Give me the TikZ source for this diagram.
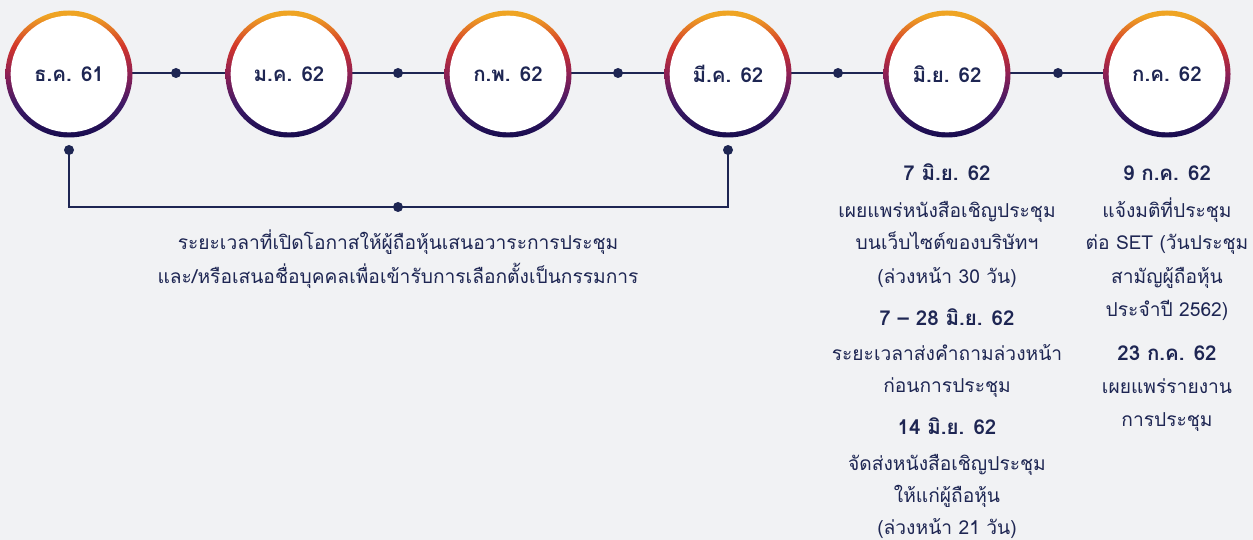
\documentclass[tikz,border=0pt]{standalone}
\usepackage{fontspec}
\setmainfont[Script=Thai]{Loma}
\usetikzlibrary{calc}
\definecolor{bg}{HTML}{F1F2F4}
\definecolor{navy}{HTML}{1E2653}
\definecolor{rgold}{HTML}{EFA423}
\definecolor{rred}{HTML}{D2352A}
\definecolor{rwine}{HTML}{8E2055}
\definecolor{rpurp}{HTML}{3E1A66}
\definecolor{rdark}{HTML}{170C4E}
\pgfdeclareverticalshading{ringshade}{100bp}{color(0bp)=(rdark); color(25bp)=(rdark); color(38bp)=(rpurp); color(50bp)=(rwine); color(61bp)=(rred); color(73bp)=(rgold); color(75bp)=(rgold); color(100bp)=(rgold)}
\tikzset{
  ring/.style={circle, minimum size=127pt, inner sep=0pt, shade, shading=ringshade,
    path picture={\fill[white] (path picture bounding box.center) circle (58.3pt);},
    font=\bfseries\fontsize{20.5}{24}\selectfont, text=navy},
  conn/.style={draw=navy, line width=1.8pt},
  dot/.style={circle, fill=navy, minimum size=10pt, inner sep=0pt},
  body/.style={anchor=base, font=\fontsize{19.2}{22}\selectfont, text=navy, inner sep=0pt},
  head/.style={anchor=base, font=\bfseries\fontsize{20.5}{24}\selectfont, text=navy, inner sep=0pt},
}
\begin{document}
\begin{tikzpicture}[x=1pt,y=-1pt]
\fill[bg] (0,0) rectangle (1253,540);
\useasboundingbox (0,0) rectangle (1253,540);
% connectors first
\coordinate (p1) at (69,73);
\coordinate (p6) at (1167,73);
\draw[conn] (p1) -- (p6);
\node[dot] (d1) at (176,73) {};
\node[dot] (d2) at (398,73) {};
\node[dot] (d3) at (618,73) {};
\node[dot] (d4) at (838,73) {};
\node[dot] (d5) at (1058,73) {};
\node[dot] (b1) at (69,150) {};
\node[dot] (b2) at (728,150) {};
\node[dot] (bm) at (398,207) {};
\draw[conn] (b1.center) |- (bm.center) -| (b2.center);
% circles
\node[ring] (c1) at (69,74) {ธ.ค. 61};
\node[ring] (c2) at (289,74) {ม.ค. 62};
\node[ring] (c3) at (508,74) {ก.พ. 62};
\node[ring] (c4) at (728,74) {มี.ค. 62};
\node[ring] (c5) at (947,74) {มิ.ย. 62};
\node[ring] (c6) at (1167,74) {ก.ค. 62};
% left caption
\node[body] (l1) at (398,250) {ระยะเวลาที่เปิดโอกาสให้ผู้ถือหุ้นเสนอวาระการประชุม};
\node[body] (l2) at (398,283) {และ/หรือเสนอชื่อบุคคลเพื่อเข้ารับการเลือกตั้งเป็นกรรมการ};
% column 1
\node[head] (a1) at (947,181) {7 มิ.ย. 62};
\node[body] (a2) at (947,218) {เผยแพร่หนังสือเชิญประชุม};
\node[body] (a3) at (947,250) {บนเว็บไซต์ของบริษัทฯ};
\node[body] (a4) at (947,283) {(ล่วงหน้า 30 วัน)};
\node[head] (a5) at (947,325) {7 – 28 มิ.ย. 62};
\node[body] (a6) at (947,360) {ระยะเวลาส่งคำถามล่วงหน้า};
\node[body] (a7) at (947,392) {ก่อนการประชุม};
\node[head] (a8) at (947,434) {14 มิ.ย. 62};
\node[body] (a9) at (947,470) {จัดส่งหนังสือเชิญประชุม};
\node[body] (a10) at (947,502) {ให้แก่ผู้ถือหุ้น};
\node[body] (a11) at (947,534) {(ล่วงหน้า 21 วัน)};
% column 2
\node[head] (e1) at (1167,181) {9 ก.ค. 62};
\node[body] (e2) at (1167,218) {แจ้งมติที่ประชุม};
\node[body] (e3) at (1167,250) {ต่อ SET (วันประชุม};
\node[body] (e4) at (1167,283) {สามัญผู้ถือหุ้น};
\node[body] (e5) at (1167,316) {ประจำปี 2562)};
\node[head] (e6) at (1167,360) {23 ก.ค. 62};
\node[body] (e7) at (1167,393) {เผยแพร่รายงาน};
\node[body] (e8) at (1167,426) {การประชุม};
\end{tikzpicture}
\end{document}
